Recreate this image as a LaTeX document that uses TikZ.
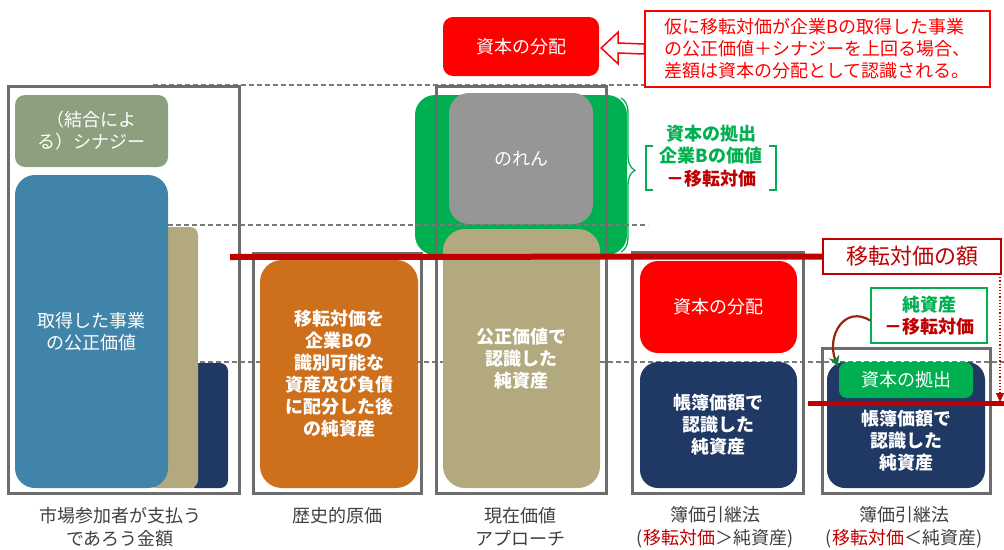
\documentclass[tikz,border=0pt]{standalone}
\usepackage{fontspec}
\setmainfont{Noto Sans CJK JP}
\usetikzlibrary{arrows.meta,decorations.pathreplacing,calc}
\definecolor{framegray}{HTML}{6D6D6D}
\definecolor{dashgray}{HTML}{7A7A7A}
\definecolor{synergy}{HTML}{8C9F7E}
\definecolor{fvblue}{HTML}{4184A9}
\definecolor{tan}{HTML}{B2AA7E}
\definecolor{navy}{HTML}{1F3864}
\definecolor{orangebox}{HTML}{CE6F1C}
\definecolor{gogreen}{HTML}{00B050}
\definecolor{goodwill}{HTML}{969696}
\definecolor{brightred}{HTML}{FF0000}
\definecolor{darkred}{HTML}{C00000}
\definecolor{labelgray}{HTML}{404040}
\newcommand\fsz[2]{\fontsize{#1}{#2}\selectfont}
\begin{document}
\begin{tikzpicture}[x=1pt,y=-1pt,
  box/.style={rounded corners=14pt, inner sep=0pt, text=white, align=center, font=\fsz{18}{22}},
  boldbox/.style={box, font=\fsz{18}{22}\bfseries},
  framebox/.style={draw=framegray, line width=3pt, inner sep=0pt},
  dashline/.style={draw=dashgray, line width=1.5pt, dash pattern=on 5pt off 3pt},
  bottomlabel/.style={text=labelgray, align=center, font=\fsz{18}{23}},
  redbar/.style={draw=darkred, line width=6pt}
]
\useasboundingbox (0,0) rectangle (1004,549);

% green capital contribution (behind dashed lines)
\node[box, fill=gogreen, rounded corners=20pt, minimum width=212pt, minimum height=160pt] (green3) at (521,175) {};

% dashed level lines
\coordinate (d1a) at (153,85); \coordinate (d1b) at (645,85);
\coordinate (d2a) at (168,225); \coordinate (d2b) at (648,225);
\coordinate (d3a) at (200,362); \coordinate (d3b) at (1004,362);
\draw[dashline] (d1a) -- (d1b);
\draw[dashline] (d2a) -- (d2b);
\draw[dashline] (d3a) -- (d3b);

% frames
\node[framebox, minimum width=231pt, minimum height=407pt] (f1) at (123.5,289.5) {};
\node[framebox, minimum width=168pt, minimum height=240pt] (f2) at (337,373) {};
\node[framebox, minimum width=170pt, minimum height=407pt] (f3) at (521,289.5) {};
\node[framebox, minimum width=171pt, minimum height=241pt] (f4) at (717.5,372.5) {};
\node[framebox, minimum width=168pt, minimum height=145pt] (f5) at (906,420.5) {};

% column 1
\node[box, fill=navy, rounded corners=8pt, minimum width=40pt, minimum height=125pt] (navy1) at (208,425.5) {};
\node[box, fill=tan, rounded corners=8pt, minimum width=50pt, minimum height=261pt] (tan1) at (173,357.5) {};
\node[box, fill=fvblue, rounded corners=20pt, minimum width=153pt, minimum height=313pt] (blue1) at (91.5,331.5) {取得した事業\\の公正価値};
\node[box, fill=synergy, rounded corners=10pt, minimum width=153pt, minimum height=72pt] (syn1) at (91.5,131) {（結合によ\\る）シナジー};

% column 2
\node[boldbox, fill=orangebox, rounded corners=22pt, minimum width=158pt, minimum height=228pt] (orange2) at (339,374)
  {移転対価を\\企業Bの\\識別可能な\\資産及び負債\\に配分した後\\の純資産};

% column 3
\node[box, fill=goodwill, rounded corners=20pt, minimum width=144pt, minimum height=131pt] (gw3) at (521,158.5) {のれん};
\node[boldbox, fill=tan, rounded corners=22pt, minimum width=157pt, minimum height=259pt] (tan3) at (521.5,358.5) {公正価値で\\認識した\\純資産};

% top red box and callout
\node[box, fill=brightred, rounded corners=10pt, minimum width=156pt, minimum height=59pt] (dist3) at (521,46.5) {資本の分配};
\node[draw=brightred, line width=1.5pt, fill=white, minimum width=345pt, minimum height=76pt, inner sep=0pt,
  text=brightred, align=left, font=\fsz{18}{22}] (callout) at (817.5,49)
  {仮に移転対価が企業Bの取得した事業\\の公正価値＋シナジーを上回る場合、\\差額は資本の分配として認識される。};
\draw[brightred, line width=1.5pt, fill=white, line join=miter]
  (dist3.east) ++(2,1.5) -- ++(17,-16) -- ++(0,11) -- ($(callout.west)+(0,-5)$) -- ($(callout.west)+(0,5)$)
  -- ($(dist3.east)+(19,6.5)$) -- ++(0,11) -- cycle;

% brace and note
\coordinate (brtop) at (621,98);
\coordinate (brbot) at (621,252);
\draw[gogreen, line width=1.3pt, decorate, decoration={brace, amplitude=14pt, aspect=0.47}] (brtop) -- (brbot);
\node[inner sep=0pt, align=center, font=\fsz{18}{22.5}\bfseries, text=gogreen] (note3) at (711,156)
  {資本の拠出\\企業Bの価値\\\textcolor{darkred}{－移転対価}};
\draw[gogreen, line width=1.5pt] (653,146) -- (646,146) -- (646,190) -- (653,190);
\draw[gogreen, line width=1.5pt] (769,146) -- (776,146) -- (776,190) -- (769,190);

% column 4
\node[box, fill=brightred, rounded corners=18pt, minimum width=157pt, minimum height=92pt] (dist4) at (718.5,307) {資本の分配};
\node[boldbox, fill=navy, rounded corners=18pt, minimum width=157pt, minimum height=126pt] (navy4) at (718.5,425) {帳簿価額で\\認識した\\純資産};

% column 5
\node[box, fill=navy, rounded corners=18pt, minimum width=158pt, minimum height=126pt] (navy5) at (906,425) {};
\node[text=white, align=center, font=\fsz{18}{22}\bfseries, inner sep=0pt] (navy5text) at (906,441) {帳簿価額で\\認識した\\純資産};
\node[box, fill=gogreen, rounded corners=8pt, minimum width=134pt, minimum height=36pt] (contr5) at (906,380) {資本の拠出};

% transfer amount label and red bars
\node[draw=darkred, line width=1.5pt, fill=white, minimum width=178pt, minimum height=35pt, inner sep=0pt,
  text=darkred, font=\fsz{22}{26}] (amount) at (912,256.5) {移転対価の額};
\coordinate (barstart) at (230,257);
\draw[redbar] (barstart) -- (amount.west);
\coordinate (dotstart) at (1000,274);
\coordinate (dotend) at (1000,402);
\draw[darkred, line width=1.2pt, dotted, -{Triangle[length=9pt,width=8pt,fill=darkred]}] (dotstart) -- (dotend);
\coordinate (bar5a) at (808,403);
\coordinate (bar5b) at (1004,403);
\draw[draw=darkred, line width=5pt] (bar5a) -- (bar5b);

% net assets - transfer label with curved arrow
\node[draw=gogreen, line width=1.5pt, fill=white, minimum width=116pt, minimum height=55pt, inner sep=0pt,
  align=center, text=gogreen, font=\fsz{18}{22}\bfseries] (netlabel) at (929,315.5) {純資産\\\textcolor{darkred}{－移転対価}};
\draw[draw=darkred!80!gogreen, line width=2.2pt, -{Stealth[length=11pt,width=11pt,color=gogreen!80!black,fill=gogreen]}]
  ($(netlabel.west)+(0,5)$) .. controls (845,305) and (826,335) .. ($(contr5.north west)+(-1,5)$);

% bottom labels
\node[bottomlabel] (lab1) at (120,527) {市場参加者が支払う\\であろう金額};
\node[bottomlabel, anchor=north] (lab2) at (337,504) {歴史的原価};
\node[bottomlabel] (lab3) at (520,527) {現在価値\\アプローチ};
\node[bottomlabel] (lab4) at (715,527) {簿価引継法\\(\textcolor{darkred}{移転対価}＞純資産)};
\node[bottomlabel] (lab5) at (904,527) {簿価引継法\\(\textcolor{darkred}{移転対価}＜純資産)};
\end{tikzpicture}
\end{document}
